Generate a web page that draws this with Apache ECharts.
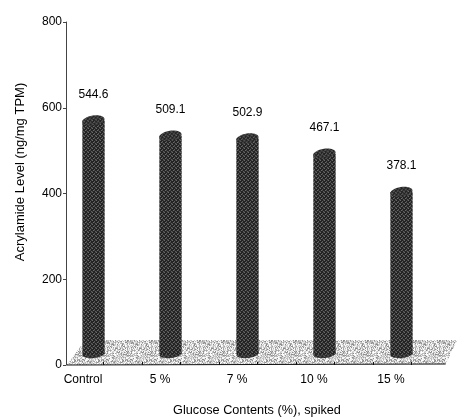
<!DOCTYPE html>
<html>
<head>
<meta charset="utf-8">
<script src="https://cdn.jsdelivr.net/npm/echarts@6/dist/echarts.min.js"></script>
<style>
  html, body { margin: 0; padding: 0; background: #fff; }
  #chart { width: 459px; height: 420px; }
</style>
</head>
<body>
<div id="chart"></div>
<script>
// Acrylamide level per glucose spike level
const categories = ['Control', '5 %', '7 %', '10 %', '15 %'];
const acrylamide = [544.6, 509.1, 502.9, 467.1, 378.1];
const yMin = 0, yMax = 800, yStep = 200;

const yTitle = 'Acrylamide Level (ng/mg TPM)';
const xTitle = 'Glucose Contents (%), spiked';

const FONT = 'Liberation Sans, Arial, sans-serif';

// Repeating texture tile; pixel shade chosen by a fixed integer hash
function texture(size, shades) {
  const c = document.createElement('canvas');
  c.width = size; c.height = size;
  const g = c.getContext('2d');
  for (let y = 0; y < size; y++) {
    for (let x = 0; x < size; x++) {
      let h = (x * 374761393 + y * 668265263) | 0;
      h = Math.imul(h ^ (h >>> 13), 1274126177);
      h = (h ^ (h >>> 16)) >>> 0;
      g.fillStyle = shades[h % shades.length];
      g.fillRect(x, y, 1, 1);
    }
  }
  return c;
}

// Cross-hatched dark tile for the columns
function hatch() {
  const c = document.createElement('canvas');
  c.width = 4; c.height = 4;
  const g = c.getContext('2d');
  g.fillStyle = '#232323';
  g.fillRect(0, 0, 4, 4);
  [[0, 0, '#6a6a6a'], [2, 1, '#5c5c5c'], [1, 2, '#6a6a6a'], [3, 3, '#5c5c5c'],
   [3, 0, '#3c3c3c'], [0, 3, '#3c3c3c'], [2, 2, '#444']].forEach(([x, y, col]) => {
    g.fillStyle = col; g.fillRect(x, y, 1, 1);
  });
  return c;
}

const barFill = { image: hatch(), repeat: 'repeat' };
const floorFill = {
  image: texture(24, ['#ffffff', '#dcdcdc', '#cacaca', '#b8b8b8', '#a4a4a4', '#8c8c8c', '#ececec', '#c2c2c2', '#f6f6f6']),
  repeat: 'repeat'
};

// Pixel depth shift of the columns standing on the floor
const DEPTH_X = 10.5;
const DEPTH_Y = 11;

const chart = echarts.init(document.getElementById('chart'), null, { renderer: 'canvas' });

chart.setOption({
  animation: false,
  backgroundColor: '#fff',
  grid: { left: 44.5, width: 385, top: 22, bottom: 55, outerBoundsMode: 'none', containLabel: false },
  xAxis: {
    type: 'category',
    data: categories,
    axisLine: { show: false },
    axisTick: { show: false },
    axisLabel: { color: '#000', fontFamily: FONT, fontSize: 12, margin: 9 },
    splitLine: { show: false }
  },
  yAxis: {
    type: 'value',
    min: yMin, max: yMax, interval: yStep,
    offset: -21.5,
    axisLine: { show: true, lineStyle: { color: '#444', width: 1 } },
    axisTick: { show: true, length: 3, lineStyle: { color: '#444' } },
    axisLabel: { color: '#000', fontFamily: FONT, fontSize: 12, margin: 4 },
    splitLine: { show: false }
  },
  graphic: [
    { type: 'text', x: 20, y: 172, rotation: Math.PI / 2,
      style: { text: yTitle, font: '13px ' + FONT, fill: '#000', align: 'center', verticalAlign: 'middle' } },
    { type: 'text', x: 257, y: 410,
      style: { text: xTitle, font: '12.7px ' + FONT, fill: '#000', align: 'center', verticalAlign: 'middle' } }
  ],
  series: [
    {
      // floor plane with its front axis line and ticks
      type: 'custom',
      z: 1,
      data: [[0]],
      renderItem(params, api) {
        const c0 = api.coord([0, 0]);
        const cN = api.coord([categories.length - 1, 0]);
        const band = api.size([1, 0])[0];
        const y0 = c0[1];
        const depth = 25;
        const pts = [
          [c0[0] - 0.21 * band, y0],
          [cN[0] + 0.71 * band, y0 - 1],
          [cN[0] + 0.86 * band, y0 - depth],
          [c0[0] + 0.03 * band, y0 - depth]
        ];
        const children = [
          { type: 'polygon', shape: { points: pts }, style: { fill: floorFill } },
          { type: 'polyline', shape: { points: [pts[0], pts[1]] }, style: { stroke: '#111', lineWidth: 1, fill: null } }
        ];
        for (let k = 0; k <= 2 * (categories.length - 1); k++) {
          const x = Math.round(c0[0] + 0.26 * band + k * 0.5 * band) + 0.5;
          children.push({ type: 'line', shape: { x1: x, y1: y0, x2: x, y2: y0 - 3 }, style: { stroke: '#111', lineWidth: 1 } });
        }
        return { type: 'group', children };
      }
    },
    {
      // cylindrical columns with value labels
      type: 'custom',
      z: 2,
      data: acrylamide.map((v, i) => [i, v]),
      renderItem(params, api) {
        const i = api.value(0), v = api.value(1);
        const base = api.coord([i, 0]);
        const top = api.coord([i, v]);
        const band = api.size([1, 0])[0];
        const w = band * 0.29, rx = w / 2, ry = 5;
        const cx = base[0] + DEPTH_X;
        const yTop = top[1] - DEPTH_Y, yBot = base[1] - DEPTH_Y;
        return {
          type: 'group',
          children: [
            { type: 'ellipse', shape: { cx, cy: yBot, rx, ry: 4 }, rotation: 0.12, originX: cx, originY: yBot,
              style: { fill: barFill } },
            { type: 'rect', shape: { x: cx - rx, y: yTop, width: w, height: yBot - yTop }, style: { fill: barFill } },
            { type: 'ellipse', shape: { cx, cy: yTop, rx, ry }, rotation: 0.15, originX: cx, originY: yTop,
              style: { fill: barFill } },
            { type: 'text', x: cx, y: top[1] - 37,
              style: { text: v.toFixed(1), font: '12px ' + FONT, fill: '#000', align: 'center', verticalAlign: 'middle' } }
          ]
        };
      }
    }
  ]
});
</script>
</body>
</html>
